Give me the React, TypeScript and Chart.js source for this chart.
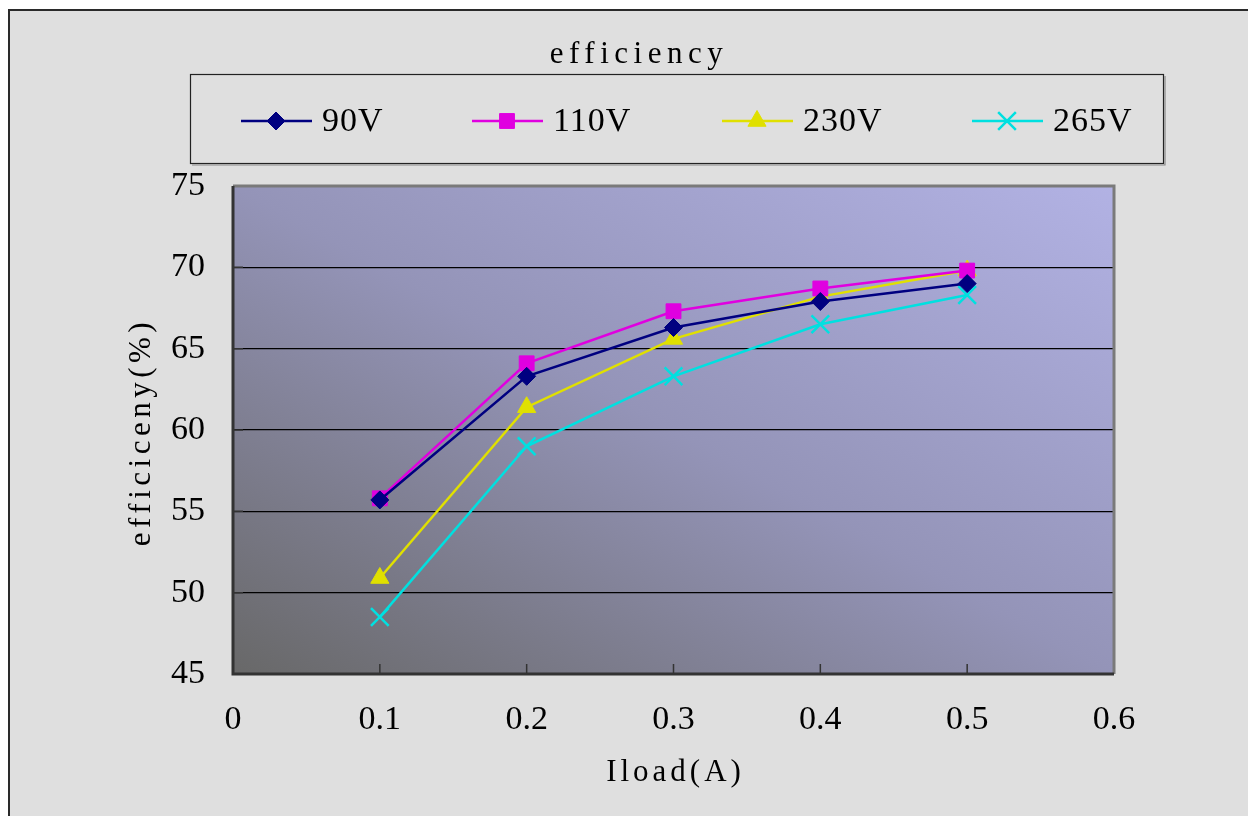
import React, { useEffect, useRef } from 'react';
import { Chart, registerables } from 'chart.js';
import { drawPoint } from 'chart.js/helpers';

Chart.register(...registerables);

// ---- data ----
const LOADS = [0.1, 0.2, 0.3, 0.4, 0.5];
const EFF_90V = [55.7, 63.3, 66.3, 67.9, 69.0];
const EFF_110V = [55.8, 64.1, 67.3, 68.7, 69.8];
const EFF_230V = [50.9, 61.4, 65.6, 68.2, 69.8];
const EFF_265V = [48.5, 59.0, 63.3, 66.5, 68.3];
const SERIES_LABELS = ['90V', '110V', '230V', '265V'];
const X_MIN = 0;
const X_MAX = 0.6;
const X_STEP = 0.1;
const Y_MIN = 45;
const Y_MAX = 75;
const Y_STEP = 5;
const CHART_TITLE = 'efficiency';
const X_TITLE = 'Iload(A)';
const Y_TITLE = 'efficiceny(%)';

// ---- styles ----
const FONT = '"Liberation Serif", "DejaVu Serif", serif';
const COLORS = ['#000080', '#e000e0', '#e0e000', '#00e0e0'];
const POINT_STYLES = ['rectRot', 'rect', 'triangle', 'crossRot'];
const POINT_RADII = [9, 10.5, 10.5, 12.5];
const LEGEND_OFFSETS = [51, 282, 532, 782];

const CANVAS_W = 1236;
const CANVAS_H = 803;

const decorPlugin = {
  id: 'decor',
  beforeDraw(chart: any) {
    const { ctx, chartArea } = chart;
    const { left, right, top, bottom } = chartArea;
    const w = right - left;
    const h = bottom - top;
    const cx = (left + right) / 2;
    const cy = (top + bottom) / 2;
    const k = (w * h) / (w * w + h * h);
    ctx.save();
    const g = ctx.createLinearGradient(cx - h * k, cy + w * k, cx + h * k, cy - w * k);
    g.addColorStop(0, '#686868');
    g.addColorStop(0.5, '#9494b8');
    g.addColorStop(1, '#b2b2e4');
    ctx.fillStyle = g;
    ctx.fillRect(left, top, w, h);
    ctx.restore();
  },
  beforeDatasetsDraw(chart: any) {
    const { ctx, chartArea, scales } = chart;
    const { left, right, top, bottom } = chartArea;
    ctx.save();
    ctx.strokeStyle = '#333';
    ctx.lineWidth = 1.5;
    ctx.beginPath();
    scales.x.ticks.forEach((t: any) => {
      const px = scales.x.getPixelForValue(t.value);
      ctx.moveTo(px, bottom);
      ctx.lineTo(px, bottom - 10);
    });
    scales.y.ticks.forEach((t: any) => {
      const py = scales.y.getPixelForValue(t.value);
      ctx.moveTo(left, py);
      ctx.lineTo(left + 10, py);
    });
    ctx.stroke();
    ctx.lineWidth = 3;
    ctx.strokeStyle = '#7a7a7a';
    ctx.beginPath();
    ctx.moveTo(left, top);
    ctx.lineTo(right, top);
    ctx.lineTo(right, bottom);
    ctx.stroke();
    ctx.strokeStyle = '#333333';
    ctx.beginPath();
    ctx.moveTo(left, top);
    ctx.lineTo(left, bottom);
    ctx.lineTo(right, bottom);
    ctx.stroke();
    ctx.restore();
  },
  afterDraw(chart: any) {
    const { ctx, chartArea } = chart;
    const { left, right, top, bottom } = chartArea;
    const cx = (left + right) / 2;
    ctx.save();
    ctx.fillStyle = '#000';
    ctx.textBaseline = 'middle';

    ctx.textAlign = 'center';
    ctx.font = `31px ${FONT}`;
    (ctx as any).letterSpacing = '5.5px';
    ctx.fillText(CHART_TITLE, 629, 44);

    (ctx as any).letterSpacing = '4px';
    ctx.fillText(X_TITLE, cx + 2, bottom + 99);

    ctx.save();
    (ctx as any).letterSpacing = '4.5px';
    ctx.translate(left - 91, (top + bottom) / 2 + 2);
    ctx.rotate(-Math.PI / 2);
    ctx.fillText(Y_TITLE, 0, 0);
    ctx.restore();

    const bx = 180, by = 63, bw = 973, bh = 89;
    ctx.strokeStyle = '#222';
    ctx.lineWidth = 1.2;
    ctx.strokeRect(bx + 0.5, by + 0.5, bw, bh);
    ctx.strokeStyle = '#888';
    ctx.beginPath();
    ctx.moveTo(bx + 2, by + bh + 2);
    ctx.lineTo(bx + bw + 2, by + bh + 2);
    ctx.lineTo(bx + bw + 2, by + 2);
    ctx.stroke();

    const ly = by + 47;
    (ctx as any).letterSpacing = '1px';
    ctx.font = `34px ${FONT}`;
    ctx.textAlign = 'left';
    chart.data.datasets.forEach((ds: any, i: number) => {
      const sx = bx + LEGEND_OFFSETS[i];
      ctx.strokeStyle = ds.borderColor;
      ctx.lineWidth = 2.5;
      ctx.beginPath();
      ctx.moveTo(sx, ly);
      ctx.lineTo(sx + 71, ly);
      ctx.stroke();
      ctx.fillStyle = ds.borderColor;
      ctx.strokeStyle = ds.borderColor;
      ctx.lineWidth = ds.pointStyle === 'crossRot' ? 2.5 : 1;
      drawPoint(ctx, { pointStyle: ds.pointStyle, rotation: 0, borderWidth: ctx.lineWidth, radius: ds.pointRadius }, sx + 35, ly);
      ctx.fillStyle = '#000';
      ctx.fillText(ds.label, sx + 81, ly + 1);
    });
    ctx.restore();
  },
};

const SERIES = [EFF_90V, EFF_110V, EFF_230V, EFF_265V];

export default function App() {
  const ref = useRef<HTMLCanvasElement | null>(null);
  useEffect(() => {
    if (!ref.current) return;
    const datasets = SERIES.map((vals, i) => ({
      label: SERIES_LABELS[i],
      data: LOADS.map((x, j) => ({ x, y: vals[j] })),
      borderColor: COLORS[i],
      backgroundColor: COLORS[i],
      pointBackgroundColor: COLORS[i],
      pointBorderColor: COLORS[i],
      pointStyle: POINT_STYLES[i],
      pointRadius: POINT_RADII[i],
      pointHoverRadius: POINT_RADII[i],
      pointBorderWidth: POINT_STYLES[i] === 'crossRot' ? 2.5 : 1,
      borderWidth: 2.5,
      tension: 0,
      fill: false,
    }));
    const chart = new Chart(ref.current, {
      type: 'line',
      data: { datasets },
      options: {
        animation: false,
        responsive: false,
        devicePixelRatio: 1,
        layout: { padding: { left: 0, right: 132, top: 175, bottom: 0 } },
        plugins: {
          legend: { display: false },
          title: { display: false },
          tooltip: { enabled: false },
        },
        scales: {
          x: {
            type: 'linear',
            min: X_MIN,
            max: X_MAX,
            border: { display: false },
            grid: { display: false, drawTicks: false },
            ticks: {
              stepSize: X_STEP,
              padding: 26,
              color: '#000',
              font: { family: FONT, size: 34 },
              maxRotation: 0,
              callback: (v: any) => (Number(v) === 0 ? '0' : Number(v).toFixed(1)),
            },
            afterFit: (s: any) => {
              s.height = 140;
            },
          },
          y: {
            type: 'linear',
            min: Y_MIN,
            max: Y_MAX,
            border: { display: false },
            grid: {
              drawTicks: false,
              color: (c: any) => (c.tick && (c.tick.value === Y_MIN || c.tick.value === Y_MAX) ? 'rgba(0,0,0,0)' : '#000'),
              lineWidth: 1.2,
            },
            ticks: {
              stepSize: Y_STEP,
              padding: 28,
              color: '#000',
              font: { family: FONT, size: 34 },
            },
            afterFit: (s: any) => {
              s.width = 223;
            },
          },
        },
      },
      plugins: [decorPlugin],
    });
    return () => chart.destroy();
  }, []);

  return (
    <div
      style={{
        position: 'absolute',
        left: 8,
        top: 9,
        width: 1260,
        height: 830,
        border: '2px solid #2a2a2a',
        background: '#dfdfdf',
        boxSizing: 'border-box',
      }}
    >
      <canvas ref={ref} width={CANVAS_W} height={CANVAS_H} style={{ display: 'block', width: CANVAS_W, height: CANVAS_H }} />
    </div>
  );
}
